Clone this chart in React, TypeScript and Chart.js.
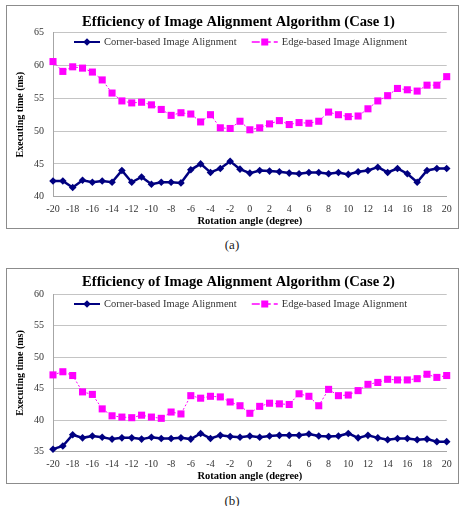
import React, { useEffect, useRef } from 'react';
import { Chart, registerables } from 'chart.js';

Chart.register(...registerables);

const angles = [-20, -19, -18, -17, -16, -15, -14, -13, -12, -11, -10, -9, -8, -7, -6, -5, -4, -3, -2, -1, 0, 1, 2, 3, 4, 5, 6, 7, 8, 9, 10, 11, 12, 13, 14, 15, 16, 17, 18, 19, 20];

const cornerCase1 = [42.4, 42.4, 41.4, 42.5, 42.2, 42.4, 42.2, 44.0, 42.2, 43.0, 41.9, 42.2, 42.2, 42.1, 44.1, 45.0, 43.7, 44.3, 45.4, 44.2, 43.6, 44.0, 43.9, 43.8, 43.6, 43.5, 43.7, 43.7, 43.5, 43.7, 43.4, 43.8, 44.0, 44.5, 43.7, 44.3, 43.5, 42.2, 44.0, 44.3, 44.3];
const edgeCase1 = [60.6, 59.1, 59.8, 59.6, 59.0, 57.8, 55.8, 54.6, 54.3, 54.4, 54.0, 53.3, 52.4, 52.8, 52.6, 51.4, 52.5, 50.5, 50.4, 51.5, 50.2, 50.5, 51.1, 51.6, 51.0, 51.3, 51.2, 51.5, 52.9, 52.5, 52.2, 52.3, 53.4, 54.6, 55.4, 56.5, 56.3, 56.1, 57.0, 57.0, 58.3];
const cornerCase2 = [35.4, 35.9, 37.7, 37.2, 37.5, 37.3, 37.0, 37.2, 37.2, 37.0, 37.3, 37.1, 37.1, 37.2, 37.0, 37.9, 37.1, 37.6, 37.4, 37.3, 37.5, 37.3, 37.5, 37.6, 37.6, 37.6, 37.8, 37.5, 37.4, 37.5, 37.9, 37.2, 37.6, 37.2, 36.9, 37.1, 37.1, 36.9, 37.0, 36.6, 36.6];
const edgeCase2 = [47.2, 47.7, 47.1, 44.5, 44.1, 41.8, 40.7, 40.5, 40.4, 40.8, 40.5, 40.3, 41.3, 41.0, 43.9, 43.5, 43.8, 43.7, 42.9, 42.3, 41.1, 42.2, 42.7, 42.6, 42.5, 44.2, 43.8, 42.3, 44.9, 43.9, 44.0, 44.7, 45.7, 46.0, 46.5, 46.4, 46.4, 46.6, 47.3, 46.8, 47.1];

const seriesNames = ['Corner-based Image Alignment', 'Edge-based Image Alignment'];
const chartTitles = ['Efficiency of Image Alignment Algorithm (Case 1)', 'Efficiency of Image Alignment Algorithm (Case 2)'];
const captions = ['(a)', '(b)'];
const xAxisTitle = 'Rotation angle (degree)';
const yAxisTitle = 'Executing time (ms)';
const yRanges = [[40, 65], [35, 60]];

const SERIF = '"Liberation Serif", "Times New Roman", serif';
const NAVY = '#000080';
const MAGENTA = '#ff00ff';

type Geo = { canvasH: number; areaTop: number; areaBottom: number; titleCenter: number; legendDy: number };

function makeLegend(dy: number) {
  return {
    id: 'inlineLegend',
    afterDraw(chart: any) {
      const { ctx, chartArea } = chart;
      ctx.save();
      ctx.font = '10.5px ' + SERIF;
      ctx.textBaseline = 'middle';
      ctx.textAlign = 'left';
      let x = chartArea.left + 21;
      const y = chartArea.top + dy;
      chart.data.datasets.forEach((ds: any, i: number) => {
        ctx.strokeStyle = ds.borderColor;
        ctx.lineWidth = i === 0 ? 2 : 1.5;
        ctx.setLineDash(i === 0 ? [] : [8, 3]);
        ctx.beginPath();
        ctx.moveTo(x, y);
        ctx.lineTo(x + 26, y);
        ctx.stroke();
        ctx.setLineDash([]);
        ctx.fillStyle = ds.pointBackgroundColor;
        const cx = x + 13;
        if (ds.pointStyle === 'rectRot') {
          const r = 3.8;
          ctx.beginPath();
          ctx.moveTo(cx, y - r);
          ctx.lineTo(cx + r, y);
          ctx.lineTo(cx, y + r);
          ctx.lineTo(cx - r, y);
          ctx.closePath();
          ctx.fill();
        } else {
          ctx.fillRect(cx - 3.5, y - 3.5, 7, 7);
        }
        x += 30;
        ctx.fillStyle = '#333';
        ctx.fillText(ds.label, x, y);
        x += ctx.measureText(ds.label).width + 15;
      });
      ctx.restore();
    },
  };
}

function ChartPanel({ idx, corner, edge, geo }: { idx: number; corner: number[]; edge: number[]; geo: Geo }) {
  const ref = useRef<HTMLCanvasElement>(null);
  useEffect(() => {
    const W = 451;
    const L = 23;
    const titleSize = 14.6;
    const titleLH = titleSize * 1.2;
    const titlePadTop = geo.titleCenter - titleLH / 2;
    const titlePadBottom = geo.areaTop - titlePadTop - titleLH;
    const chart = new Chart(ref.current as HTMLCanvasElement, {
      type: 'line',
      data: {
        datasets: [
          {
            label: seriesNames[0],
            data: angles.map((a, i) => ({ x: a, y: corner[i] })),
            borderColor: NAVY,
            backgroundColor: NAVY,
            pointBackgroundColor: NAVY,
            pointBorderColor: NAVY,
            borderWidth: 2.5,
            pointStyle: 'rectRot',
            pointRadius: 3.8,
            pointBorderWidth: 0,
            tension: 0,
            clip: false,
          } as any,
          {
            label: seriesNames[1],
            data: angles.map((a, i) => ({ x: a, y: edge[i] })),
            borderColor: MAGENTA,
            backgroundColor: MAGENTA,
            pointBackgroundColor: MAGENTA,
            pointBorderColor: MAGENTA,
            borderWidth: 1,
            borderDash: [2, 2],
            pointStyle: 'rect',
            pointRadius: 5,
            pointBorderWidth: 0,
            tension: 0,
            clip: false,
          } as any,
        ],
      },
      options: {
        responsive: false,
        animation: false,
        devicePixelRatio: 1,
        layout: { padding: { left: L, right: W - 440, top: 0, bottom: 0 } },
        plugins: {
          legend: { display: false },
          tooltip: { enabled: false },
          title: {
            display: true,
            text: chartTitles[idx],
            color: '#000',
            font: { family: SERIF, size: titleSize, weight: 'bold', lineHeight: 1.2 },
            padding: { top: titlePadTop, bottom: titlePadBottom },
          },
        },
        scales: {
          x: {
            type: 'linear',
            min: -20,
            max: 20,
            grid: { display: false, drawTicks: false },
            border: { display: true, color: '#a6a6a6', width: 1 },
            ticks: {
              stepSize: 2,
              autoSkip: false,
              maxRotation: 0,
              padding: 6.3,
              color: '#333',
              font: { family: SERIF, size: 10, lineHeight: 1.2 },
            },
            title: {
              display: true,
              text: xAxisTitle,
              color: '#000',
              font: { family: SERIF, size: 10.5, weight: 'bold', lineHeight: 1.2 },
              padding: { top: 0, bottom: 0 },
            },
            afterFit: (s: any) => {
              s.height = geo.canvasH - geo.areaBottom;
            },
          },
          y: {
            min: yRanges[idx][0],
            max: yRanges[idx][1],
            grid: { color: '#c4c4c4', lineWidth: 1, drawTicks: false },
            border: { display: true, color: '#a6a6a6', width: 1 },
            ticks: {
              stepSize: 5,
              padding: 9,
              color: '#333',
              font: { family: SERIF, size: 10, lineHeight: 1.2 },
            },
            title: {
              display: true,
              text: yAxisTitle,
              color: '#000',
              font: { family: SERIF, size: 10, weight: 'bold', lineHeight: 1.2 },
              padding: { top: 7 - L, bottom: 0 },
            },
            afterFit: (s: any) => {
              s.width = 46 - L;
            },
          },
        },
      } as any,
      plugins: [makeLegend(geo.legendDy)],
    });
    return () => chart.destroy();
  }, []);
  return <canvas ref={ref} width={451} height={geo.canvasH} style={{ display: 'block', width: 451, height: geo.canvasH }} />;
}

const boxStyle = (top: number, h: number): React.CSSProperties => ({
  position: 'absolute',
  left: 6,
  top,
  width: 453,
  height: h,
  border: '1px solid #8c8c8c',
  boxSizing: 'border-box',
  background: '#fff',
});

const capStyle = (top: number): React.CSSProperties => ({
  position: 'absolute',
  left: 0,
  width: 464,
  top,
  textAlign: 'center',
  fontFamily: SERIF,
  fontSize: 13,
  fontWeight: 400,
  lineHeight: '15px',
  color: '#222',
});

export default function App() {
  return (
    <div style={{ position: 'absolute', left: 0, top: 0, width: 460, height: 506, background: '#fff', overflow: 'hidden' }}>
      <div style={boxStyle(5, 224)}>
        <ChartPanel idx={0} corner={cornerCase1} edge={edgeCase1} geo={{ canvasH: 222, areaTop: 26.7, areaBottom: 190.7, titleCenter: 16, legendDy: 9.3 }} />
      </div>
      <div style={capStyle(237)}>{captions[0]}</div>
      <div style={boxStyle(268, 216)}>
        <ChartPanel idx={1} corner={cornerCase2} edge={edgeCase2} geo={{ canvasH: 214, areaTop: 25.3, areaBottom: 182.7, titleCenter: 13.7, legendDy: 9.7 }} />
      </div>
      <div style={capStyle(493)}>{captions[1]}</div>
    </div>
  );
}
